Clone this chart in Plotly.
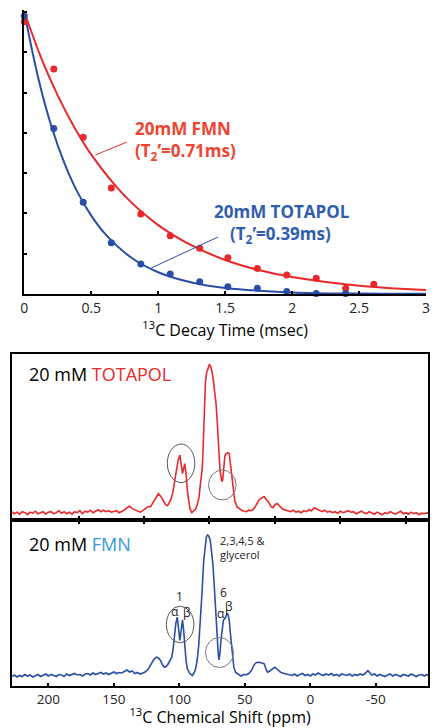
import plotly.graph_objects as go

# ---------------- Top chart: 13C decay ----------------
fmn_t = [0.0, 0.22, 0.44, 0.65, 0.87, 1.09, 1.31, 1.52, 1.74, 1.96, 2.18, 2.40, 2.61]
fmn_val = [1.352, 1.117, 0.778, 0.526, 0.397, 0.289, 0.227, 0.180, 0.127, 0.094, 0.078, 0.028, 0.048]
tota_t = [0.0, 0.22, 0.44, 0.65, 0.87, 1.09, 1.31, 1.52, 1.74, 1.96, 2.18, 2.40]
tota_val = [1.380, 0.822, 0.455, 0.255, 0.149, 0.099, 0.061, 0.036, 0.028, 0.012, 0.003, 0.003]

# fitted curves
fmn_fit_t = [0.0, 0.125, 0.25, 0.375, 0.5, 0.75, 1.0, 1.25, 1.5, 1.75, 2.0, 2.5, 3.0]
fmn_fit_val = [1.40, 1.174, 0.985, 0.826, 0.692, 0.487, 0.342, 0.241, 0.169, 0.119, 0.084, 0.041, 0.020]
tota_fit_t = [0.0, 0.1, 0.2, 0.3, 0.4, 0.5, 0.6, 0.8, 1.0, 1.25, 1.5, 2.0, 2.5, 3.0]
tota_fit_val = [1.40, 1.084, 0.838, 0.649, 0.502, 0.389, 0.301, 0.180, 0.108, 0.057, 0.030, 0.008, 0.002, 0.001]

decay_ticks = [0, 0.5, 1, 1.5, 2, 2.5, 3]
decay_ticklabels = ["0", "0.5", "1", "1.5", "2", "2.5", "3"]

# ---------------- Spectra ----------------
tota_ppm = [228, 226, 224, 222, 220, 218, 216, 214, 212, 210, 208, 206, 204, 202, 200, 198, 196, 194, 192, 190,
            188, 186, 184, 182, 180, 178, 176, 174, 172, 170, 168, 166, 164, 162, 160, 158, 156, 154, 152, 150,
            148, 146, 144, 142, 140, 138, 136, 134, 132, 130, 128,
            126, 124, 122, 120, 118, 116, 114, 112, 110.5, 109, 108, 106.5, 105, 103, 101, 99.6, 98.6, 97.6, 95.9,
            94.8, 93.9, 92.8, 91.9, 90.5, 89, 87.5, 86.4, 85, 83.9, 82.6, 81.9, 80.7, 80.1, 79.2, 78, 77, 76,
            74.9, 73.9, 72.9, 71.9, 71, 70.1, 69.4, 68.9, 68.2, 67.6, 66.9, 66.2, 65.2, 64.2, 62.9, 61.9, 61,
            60.1, 59, 57.7, 56, 53.9, 52, 50, 48.9, 47, 45, 43, 41, 39, 37, 35.2, 33.5, 32, 30, 28.5, 27, 25.2,
            23, 21, 19, 17,
            15, 13, 11, 9, 7, 5, 3, 1, -1, -3, -5, -7, -9, -11, -13, -15, -17, -19, -21, -23, -25, -27, -29,
            -31, -33, -35, -37, -39, -41, -43, -45, -47, -49, -51, -53, -55, -57, -59, -61, -63, -65, -67,
            -69, -71, -73, -75, -77, -79, -81, -83, -85, -87, -89, -90]
tota_int = [1, -1, 0.5, -1.5, 1, 0, -2, 0.5, -0.5, 1.5, -1, 0, 1, -1.5, 0.5, 1, -1, 0, 2, -0.5,
            1, -1, 0.5, -1.5, 1, 0, 2, -1, 1.5, 0.5, 2.5, 0, 1.5, 3, 1, 2.5, 1, 2, 0.5, 1,
            2, 0, 1.5, 2.5, 5, 6.5, 4, 3, 1.5, 0.5, 2,
            4.5, 6, 6, 10, 15, 19, 16, 11, 8, 7, 9, 13, 20, 35, 52, 57.7, 47, 39, 49,
            38, 22, 10, 4, 0, 2, 4, 8, 15, 29, 43, 63, 108, 130, 140, 146, 148.4, 146,
            140, 131, 120, 108, 90, 74, 52, 42, 34, 31, 33, 42, 57, 59, 60, 59, 50,
            39, 25, 12, 6, 4, 2, 1.5, 1, 2.5, 2, 4, 8, 13, 15, 16, 13, 11, 6, 5, 8, 9.3,
            6, 3.5, 2.7, 2,
            1, 2.5, 0.5, 1.5, 0, 2, 1, 3, 2, 5, 3.5, 2, 1, 2.5, 0.5, 1.5, 0, 1, -0.5, 1.5, 0, 1, 2,
            0.5, 1, -1, 0.5, 1.5, 0, -1, 1, 0, -1.5, 0.5, -0.5, -2, 0, -1, 1, -0.5, -1.5, 0,
            1.5, -1, 0, -1.5, 0.5, -1, 0, -2, -0.5, -1, 0, -1]

fmn_ppm = [228, 226, 224, 222, 220, 218, 216, 214, 212, 210, 208, 206, 204, 202, 200, 198, 196, 194, 192, 190,
           188, 186, 184, 182, 180, 178, 176, 174, 172, 170, 168, 166, 164, 162, 160, 158, 156, 154, 152, 150,
           148, 146, 144, 142, 140, 138, 136, 134, 132, 130, 128,
           126.4, 124, 122.5, 121.3, 119.5, 117.6, 116, 114.4, 113, 111.4, 110, 108.8, 107.3, 105.8, 104.8,
           103.9, 102.7, 101.6, 100.6, 99.6, 98.6, 97.6, 96.7, 95.9, 94.9, 93.9, 92, 90.1, 88.5, 87.4, 86.4,
           85.2, 83.9, 82.6, 81.4, 80.2, 79.3, 78.4, 77.4, 76.4, 75.4, 74.4, 73.5, 72.7, 71.8, 70.9, 70.2,
           69.7, 69, 68.2, 67.3, 66.4, 64.9, 63.4, 62.6, 61.9, 61, 60.1, 59.2, 58.4, 57, 55.2, 53, 51, 48.9,
           47, 45, 43.5, 42.7, 41, 39, 37, 35.2, 34, 32.7, 31.5, 30.2, 28.5, 27, 25, 22.7, 20, 18, 16.5,
           14, 12, 10, 8, 6, 4, 2, 0, -2, -4, -6, -8, -10, -12, -14, -16, -18, -20, -22, -24, -26, -28,
           -30, -32, -34, -36, -38, -40, -42, -44, -45.5, -47, -49, -51, -53, -55, -57, -59, -61, -63, -65,
           -67, -69, -71, -73, -75, -77, -79, -81, -83, -85, -87, -89, -90]
fmn_int = [-1, 0.5, -1.5, 0, -1, 1, -0.5, 0.5, -1.5, 0, 1, -1, 0.5, 1.5, -0.5, 1, 0, -1, 1, 0.5,
           -1, 1.5, 0, 1, 2, 0.5, 1, -0.5, 1.5, 2, 0.5, 2.5, 1, 2, 3, 1.5, 2.5, 1, 2, 3.5,
           2, 3, 2.5, 4, 5.5, 3.5, 4.5, 2, 3, 1.5, 2.5,
           3.3, 6, 9, 11.7, 16, 18.3, 17.5, 15, 11, 8.3, 9, 11, 14, 18.3, 26,
           38.3, 52, 58.3, 48, 35, 45, 55.7, 45, 28.3, 15, 6.7, 2, 0, 3, 8, 15,
           30, 55, 85, 115, 132, 139, 140.5, 139, 135, 125, 111.7, 93, 71.7, 50, 31.7, 20,
           15.7, 22, 35, 47, 55, 57.7, 62.3, 60, 55, 42, 28.3, 16, 8.3, 3, 1, -0.5, 1, 0.7,
           2, 5, 9, 11, 13, 13.3, 12.5, 11.7, 7, 3.3, 4, 5, 7, 8.3, 6, 3.3, 2, 1.5, 1,
           0, 1.5, -0.5, 1, 2, 0, 1, -0.5, 1.5, 0.5, 2.5, 1, 0, 1.5, 0.5, 2, 0, 1, -0.5, 1.5, 0.5, 0,
           1.5, -0.5, 1, 0, 1.5, 0.5, 2, 5, 2.5, 0.5, 1.5, -0.5, 1, 0, -1, 0.5, 1.5, -0.5, 1,
           0, -1, 1, 0.5, -0.5, 1.5, 0, -1, 0.5, 1, -0.5, 1, 0]

ppm_ticks = [200, 150, 100, 50, 0, -50]
ppm_ticklabels = ["200", "150", "100", "50", "0", "-50"]

RED = "#E8282A"
RED_TXT = "#EE4432"
BLUE = "#2A4EA6"
BLUE_TXT = "#2F5DB0"
LBLUE = "#2E9AE0"
FONT = "Open Sans"

W, H = 432, 728
def px_x(p):
    return p / W
def px_y(p):
    return 1 - p / H

fig = go.Figure()

# top decay chart
fig.add_trace(go.Scatter(x=fmn_fit_t, y=fmn_fit_val, mode="lines", line=dict(color=RED, width=2, shape="spline"),
                         xaxis="x", yaxis="y", hoverinfo="skip"))
fig.add_trace(go.Scatter(x=tota_fit_t, y=tota_fit_val, mode="lines", line=dict(color=BLUE, width=2, shape="spline"),
                         xaxis="x", yaxis="y", hoverinfo="skip"))
fig.add_trace(go.Scatter(x=fmn_t, y=fmn_val, mode="markers", marker=dict(color=RED, size=7),
                         xaxis="x", yaxis="y", cliponaxis=False))
fig.add_trace(go.Scatter(x=tota_t, y=tota_val, mode="markers", marker=dict(color=BLUE, size=7),
                         xaxis="x", yaxis="y", cliponaxis=False))

# spectra
fig.add_trace(go.Scatter(x=tota_ppm, y=tota_int, mode="lines", line=dict(color=RED, width=1.6),
                         xaxis="x2", yaxis="y2"))
fig.add_trace(go.Scatter(x=fmn_ppm, y=fmn_int, mode="lines", line=dict(color=BLUE, width=1.6),
                         xaxis="x3", yaxis="y3"))
fig.add_trace(go.Scatter(x=[None], y=[None], mode="lines", xaxis="x4", yaxis="y3", hoverinfo="skip"))

spec_range = [227.7, -89.9]

fig.update_layout(
    width=W, height=H, margin=dict(l=0, r=0, t=0, b=0),
    paper_bgcolor="white", plot_bgcolor="white", showlegend=False,
    font=dict(family=FONT, color="black"),
    xaxis=dict(domain=[px_x(20.7), px_x(430)], anchor="y", range=[0, 3],
               tickvals=decay_ticks, ticktext=decay_ticklabels, ticklabeloverflow="allow",
               ticks="inside", ticklen=3, tickwidth=1.5, tickcolor="black",
               showline=True, linecolor="black", linewidth=2, showgrid=False, zeroline=False,
               tickfont=dict(size=14, color="#222"),
               title=dict(text="<sup>13</sup>C Decay Time (msec)", font=dict(size=16), standoff=0)),
    yaxis=dict(domain=[px_y(294), px_y(10)], anchor="x", range=[0, 1.41], dtick=0.2, tick0=0,
               ticks="inside", ticklen=3, tickwidth=1.5, tickcolor="black", showticklabels=False,
               showline=True, linecolor="black", linewidth=2, showgrid=False, zeroline=False),
    xaxis2=dict(domain=[px_x(8.3), 1], anchor="y2", range=spec_range, tick0=27, dtick=50,
                ticks="inside", ticklen=4, tickwidth=1.5, tickcolor="black", showticklabels=False,
                showline=True, mirror=True, linecolor="black", linewidth=1.5, showgrid=False, zeroline=False),
    yaxis2=dict(domain=[px_y(520), px_y(354)], anchor="x2", range=[-7.3, 158.7],
                showticklabels=False, ticks="", showline=True, mirror=True, linecolor="black",
                linewidth=1.5, showgrid=False, zeroline=False),
    xaxis3=dict(domain=[px_x(8.3), 1], anchor="y3", range=spec_range,
                tickvals=ppm_ticks, ticktext=ppm_ticklabels,
                ticks="inside", ticklen=3, tickwidth=1.5, tickcolor="black",
                showline=True, mirror=True, linecolor="black", linewidth=1.5, showgrid=False, zeroline=False,
                tickfont=dict(size=13.5, color="#222"),
                title=dict(text="<sup>13</sup>C Chemical Shift (ppm)", font=dict(size=16), standoff=3)),
    xaxis4=dict(domain=[px_x(8.3), 1], anchor="y3", overlaying="x3", side="top", range=spec_range,
                tick0=27, dtick=50, ticks="inside", ticklen=4, tickwidth=1.5, tickcolor="black",
                showticklabels=False, showline=False, showgrid=False, zeroline=False),
    yaxis3=dict(domain=[px_y(686), px_y(520)], anchor="x3", range=[-10.5, 155.5],
                showticklabels=False, ticks="", showline=True, mirror=True, linecolor="black",
                linewidth=1.5, showgrid=False, zeroline=False),
)

anns = []
def ann(text, x, y, xref, yref, size, color, xanchor="left", bold=False):
    if bold:
        text = "<b>" + text + "</b>"
    anns.append(dict(text=text, x=x, y=y, xref=xref, yref=yref, showarrow=False, xanchor=xanchor,
                     yanchor="middle", font=dict(size=size, color=color, family=FONT)))

# top chart labels
ann("20mM FMN", 0.809, 0.824, "x", "y", 17, RED_TXT, bold=True)
ann("(T<sub>2</sub>’=0.71ms)", 0.809, 0.705, "x", "y", 17, RED_TXT, bold=True)
ann("20mM TOTAPOL", 1.40, 0.412, "x", "y", 17, BLUE_TXT, bold=True)
ann("(T<sub>2</sub>’=0.39ms)", 1.52, 0.293, "x", "y", 17, BLUE_TXT, bold=True)

# spectra labels
ann("20 mM <span style='color:%s'>TOTAPOL</span>" % RED, px_x(23), px_y(374), "paper", "paper", 18, "black")
ann("20 mM <span style='color:%s'>FMN</span>" % LBLUE, px_x(23), px_y(544), "paper", "paper", 18, "black")
ann("2,3,4,5 &", 70.4, 135, "x3", "y3", 11, "#222")
ann("glycerol", 70.4, 121, "x3", "y3", 11, "#222")
ann("1", 99.6, 79, "x3", "y3", 12, "#222", xanchor="center")
ann("α", 103.4, 64, "x3", "y3", 12, "#222", xanchor="center")
ann("β", 94.4, 63, "x3", "y3", 12, "#222", xanchor="center")
ann("6", 65.9, 83, "x3", "y3", 12, "#222", xanchor="center")
ann("α", 68.4, 62, "x3", "y3", 12, "#222", xanchor="center")
ann("β", 62.2, 69, "x3", "y3", 12, "#222", xanchor="center")
fig.update_layout(annotations=anns)

shapes = [
    dict(type="line", xref="x", yref="y", x0=0.53, y0=0.69, x1=0.765, y1=0.754, line=dict(color=RED, width=1)),
    dict(type="line", xref="x", yref="y", x0=0.948, y0=0.129, x1=1.446, y1=0.283, line=dict(color=BLUE, width=1)),
    dict(type="circle", xref="x2", yref="y2", x0=109.2, x1=88.2, y0=30.1, y1=68.7, line=dict(color="#555", width=1)),
    dict(type="circle", xref="x2", yref="y2", x0=77.7, x1=56.7, y0=12.7, y1=42.7, line=dict(color="#777", width=1)),
    dict(type="circle", xref="x3", yref="y3", x0=109.9, x1=88.9, y0=32.7, y1=69.3, line=dict(color="#555", width=1)),
    dict(type="circle", xref="x3", yref="y3", x0=80.1, x1=58.7, y0=8, y1=38, line=dict(color="#777", width=1)),
]
fig.update_layout(shapes=shapes)

fig.write_html("out.html", config={"displayModeBar": False},
               post_script="document.body.style.margin='0';document.body.style.padding='0';"
                           "document.body.style.overflow='hidden';")
